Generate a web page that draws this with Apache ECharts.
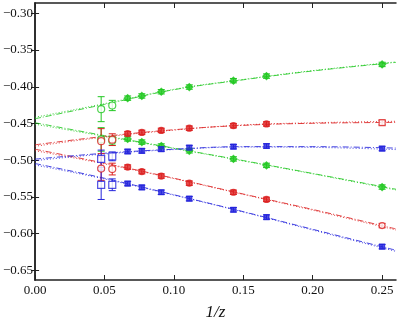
<!DOCTYPE html>
<html>
<head>
<meta charset="utf-8">
<script src="https://cdn.jsdelivr.net/npm/echarts@6/dist/echarts.min.js"></script>
<style>
    html, body { margin: 0; padding: 0; background: #fff; }
    #chart { width: 399px; height: 326px; }
</style>
</head>
<body>
<div id="chart"></div>
<script>
    // 1/z values of the measured points
    const xPts = [0.0476, 0.0556, 0.0667, 0.0769, 0.0909, 0.1111, 0.1429, 0.1667, 0.25];

    const green1 = [-0.4305, -0.4255, -0.4155, -0.4125, -0.4068, -0.4004, -0.3917, -0.3855, -0.3696];
    const green1Err = [0.017, 0.007, 0.003, 0.003, 0.003, 0.003, 0.003, 0.003, 0.003];
    const green2 = [-0.4717, -0.4735, -0.4710, -0.4753, -0.4806, -0.4872, -0.4982, -0.5070, -0.5365];
    const green2Err = [0.016, 0.006, 0.003, 0.003, 0.003, 0.003, 0.003, 0.003, 0.003];
    const red1 = [-0.4740, -0.4720, -0.4638, -0.4621, -0.4594, -0.4564, -0.4529, -0.4506, -0.4489];
    const red1Err = [0.017, 0.008, 0.003, 0.003, 0.003, 0.003, 0.003, 0.003, 0.003];
    const red2 = [-0.5114, -0.5120, -0.5093, -0.5155, -0.5215, -0.5312, -0.5436, -0.5533, -0.5889];
    const red2Err = [0.016, 0.008, 0.003, 0.003, 0.003, 0.003, 0.003, 0.003, 0.003];
    const blue1 = [-0.4982, -0.4947, -0.4881, -0.4872, -0.4849, -0.4828, -0.4815, -0.4806, -0.4841];
    const blue1Err = [0.012, 0.006, 0.003, 0.003, 0.003, 0.003, 0.003, 0.003, 0.003];
    const blue2 = [-0.5334, -0.5334, -0.5317, -0.5370, -0.5436, -0.5523, -0.5674, -0.5774, -0.6176];
    const blue2Err = [0.020, 0.008, 0.003, 0.003, 0.003, 0.003, 0.003, 0.003, 0.003];

    const fitX = [0, 0.05, 0.1, 0.15, 0.2, 0.26];
    const green1Fit = [-0.4435, -0.4240, -0.4040, -0.3905, -0.3785, -0.3668];
    const green1Dot = [-0.4415, -0.4230, -0.4035, -0.3900, -0.3780, -0.3662];
    const green2Fit = [-0.4490, -0.4665, -0.4835, -0.5005, -0.5180, -0.5395];
    const green2Dot = [-0.4510, -0.4675, -0.4840, -0.5010, -0.5185, -0.5405];
    const red1Fit = [-0.4790, -0.4675, -0.4585, -0.4525, -0.4497, -0.4485];
    const red1Dot = [-0.4810, -0.4685, -0.4590, -0.4520, -0.4490, -0.4470];
    const red2Fit = [-0.4850, -0.5040, -0.5245, -0.5460, -0.5670, -0.5935];
    const red2Dot = [-0.4870, -0.5050, -0.5250, -0.5465, -0.5680, -0.5950];
    const blue1Fit = [-0.4985, -0.4905, -0.4850, -0.4815, -0.4815, -0.4835];
    const blue1Dot = [-0.5005, -0.4915, -0.4855, -0.4820, -0.4825, -0.4855];
    const blue2Fit = [-0.5045, -0.5245, -0.5470, -0.5700, -0.5940, -0.6225];
    const blue2Dot = [-0.5065, -0.5255, -0.5475, -0.5705, -0.5950, -0.6240];

    const xTicks = [0, 0.05, 0.10, 0.15, 0.20, 0.25];
    const yTicks = [-0.30, -0.35, -0.40, -0.45, -0.50, -0.55, -0.60, -0.65];

    const GREEN = '#22c822';
    const RED = '#dc2222';
    const BLUE = '#2424dc';
    const FONT = '"Liberation Serif", "DejaVu Serif", serif';

    const myChart = echarts.init(document.getElementById('chart'));

    function fmt (v) {
        return v.toFixed(2).replace('-', '\u2212');
    }

    function pairs (xs, ys) {
        return xs.map((x, i) => [x, ys[i]]);
    }

    function fitSeries (ys, color, dash) {
        return {
            type: 'line',
            data: pairs(fitX, ys),
            smooth: 0.4,
            showSymbol: false,
            silent: true,
            z: 1,
            lineStyle: { color: color, width: 1, type: dash, opacity: 0.85 }
        };
    }

    function errSeries (ys, errs, color) {
        return {
            type: 'custom',
            silent: true,
            z: 2,
            data: xPts.map((x, i) => [x, ys[i] - errs[i], ys[i] + errs[i]]),
            renderItem: function (params, api) {
                const lo = api.coord([api.value(0), api.value(1)]);
                const hi = api.coord([api.value(0), api.value(2)]);
                const w = 3.5;
                const style = { stroke: color, lineWidth: 1 };
                return {
                    type: 'group',
                    children: [
                        { type: 'line', shape: { x1: lo[0], y1: lo[1], x2: hi[0], y2: hi[1] }, style: style },
                        { type: 'line', shape: { x1: lo[0] - w, y1: lo[1], x2: lo[0] + w, y2: lo[1] }, style: style },
                        { type: 'line', shape: { x1: hi[0] - w, y1: hi[1], x2: hi[0] + w, y2: hi[1] }, style: style }
                    ]
                };
            }
        };
    }

    // first two points are drawn hollow; lastSymbol overrides the final marker
    function pointSeries (ys, color, symbol, size, lastSymbol) {
        return {
            type: 'scatter',
            symbol: symbol,
            symbolSize: size,
            z: 3,
            data: pairs(xPts, ys).map((p, i) => {
                const last = i === xPts.length - 1;
                const hollow = i < 2 || (lastSymbol && last);
                let sym = symbol;
                if (i < 2 && symbol === 'diamond') sym = 'circle';
                if (last && lastSymbol) sym = lastSymbol;
                return {
                    value: p,
                    symbol: sym,
                    symbolSize: i < 2 ? 7 : size,
                    itemStyle: {
                        color: hollow ? '#fff' : color,
                        borderColor: color,
                        borderWidth: 1.2
                    }
                };
            })
        };
    }

    const axisLine = { show: true, lineStyle: { color: '#222', width: 1.5 } };

    const option = {
        animation: false,
        grid: { left: 33, right: 3, top: 3, bottom: 38 },
        xAxis: [
            {
                type: 'value',
                min: 0,
                max: 0.26,
                name: '1/z',
                nameLocation: 'middle',
                nameGap: 24,
                nameTextStyle: { fontFamily: FONT, fontStyle: 'italic', fontSize: 17, color: '#111' },
                axisLine: axisLine,
                axisTick: { inside: true, length: 5, customValues: xTicks, lineStyle: { color: '#222' } },
                axisLabel: { customValues: xTicks, formatter: fmt, fontFamily: FONT, fontSize: 13, color: '#111', margin: 4 },
                splitLine: { show: false }
            },
            {
                type: 'value',
                position: 'top',
                min: 0,
                max: 0.26,
                axisLine: axisLine,
                axisTick: { inside: true, length: 5, customValues: xTicks, lineStyle: { color: '#222' } },
                axisLabel: { show: false },
                splitLine: { show: false }
            }
        ],
        yAxis: [
            {
                type: 'value',
                min: -0.663,
                max: -0.286,
                axisLine: axisLine,
                axisTick: { inside: true, length: 4, customValues: yTicks, lineStyle: { color: '#222' } },
                axisLabel: { customValues: yTicks, formatter: fmt, fontFamily: FONT, fontSize: 13, color: '#111', margin: 2 },
                splitLine: { show: false }
            },
            {
                type: 'value',
                position: 'right',
                min: -0.663,
                max: -0.286,
                axisLine: axisLine,
                axisTick: { inside: true, length: 4, customValues: yTicks, lineStyle: { color: '#222' } },
                axisLabel: { show: false },
                splitLine: { show: false }
            }
        ],
        series: [
            fitSeries(green1Fit, GREEN, [6, 2, 1, 2]),
            fitSeries(green1Dot, GREEN, [1, 2]),
            fitSeries(green2Fit, GREEN, [6, 2, 1, 2]),
            fitSeries(green2Dot, GREEN, [1, 2]),
            fitSeries(red1Fit, RED, [6, 2, 1, 2]),
            fitSeries(red1Dot, RED, [1, 2]),
            fitSeries(red2Fit, RED, [6, 2, 1, 2]),
            fitSeries(red2Dot, RED, [1, 2]),
            fitSeries(blue1Fit, BLUE, [6, 2, 1, 2]),
            fitSeries(blue1Dot, BLUE, [1, 2]),
            fitSeries(blue2Fit, BLUE, [6, 2, 1, 2]),
            fitSeries(blue2Dot, BLUE, [1, 2]),
            errSeries(green1, green1Err, GREEN),
            errSeries(green2, green2Err, GREEN),
            errSeries(red1, red1Err, RED),
            errSeries(red2, red2Err, RED),
            errSeries(blue1, blue1Err, BLUE),
            errSeries(blue2, blue2Err, BLUE),
            pointSeries(green1, GREEN, 'diamond', 7, null),
            pointSeries(green2, GREEN, 'diamond', 7, null),
            pointSeries(red1, RED, 'circle', 6, 'rect'),
            pointSeries(red2, RED, 'circle', 6, 'circle'),
            pointSeries(blue1, BLUE, 'rect', 5, null),
            pointSeries(blue2, BLUE, 'rect', 5, null)
        ]
    };
    myChart.setOption(option);
</script>
</body>
</html>
